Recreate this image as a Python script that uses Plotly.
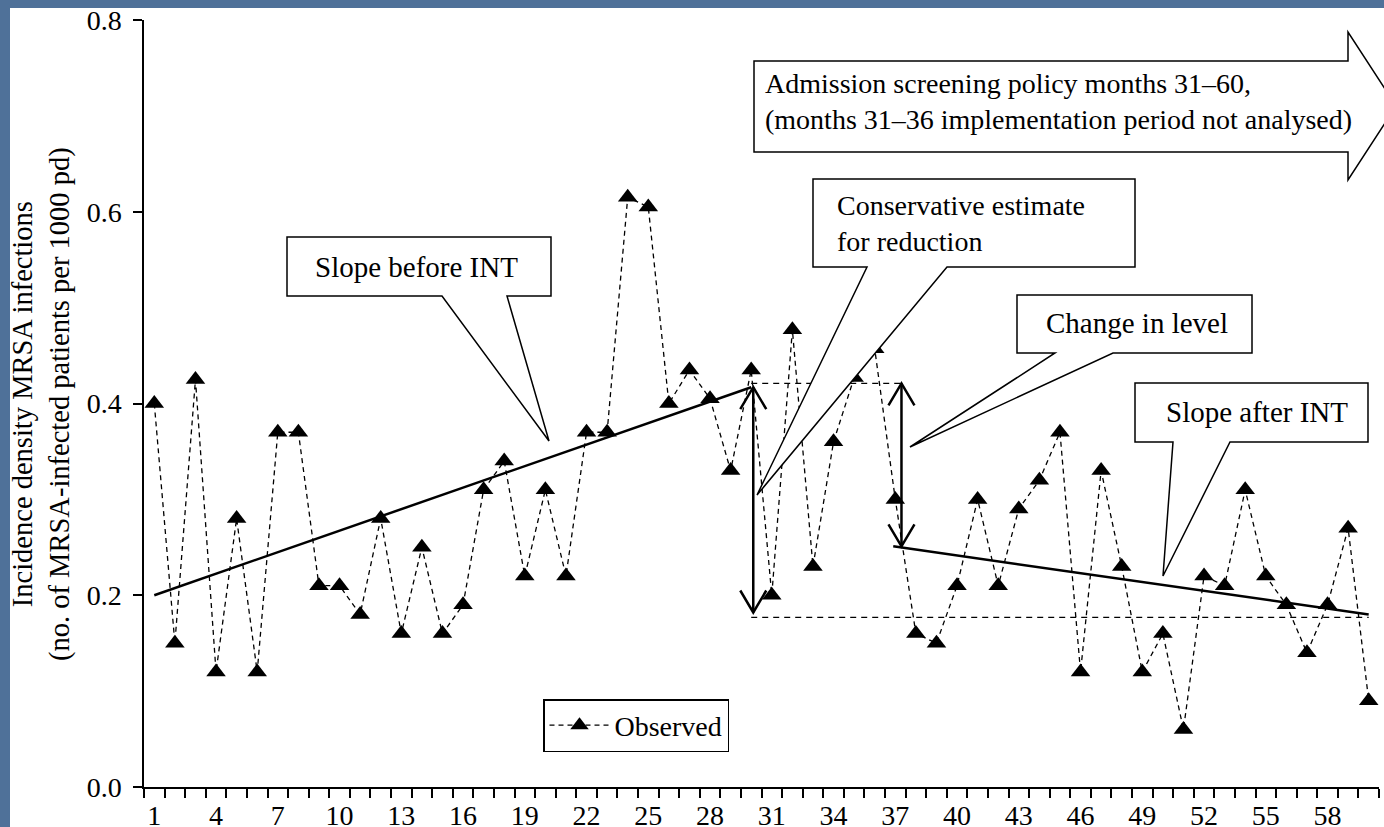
import plotly.graph_objects as go

# ---------------- data ----------------
months = list(range(1, 61))
observed = [0.40, 0.15, 0.425, 0.12, 0.28, 0.12, 0.37, 0.37, 0.21, 0.21,
            0.18, 0.28, 0.16, 0.25, 0.16, 0.19, 0.31, 0.34, 0.22, 0.31,
            0.22, 0.37, 0.37, 0.615, 0.605, 0.40, 0.435, 0.405, 0.33, 0.435,
            0.20, 0.477, 0.23, 0.36, 0.427, 0.457, 0.30, 0.16, 0.15, 0.21,
            0.30, 0.21, 0.29, 0.32, 0.37, 0.12, 0.33, 0.23, 0.12, 0.16,
            0.06, 0.22, 0.21, 0.31, 0.22, 0.19, 0.14, 0.19, 0.27, 0.09]

trend_pre_x = [1, 30]
trend_pre_y = [0.200, 0.417]
trend_post_x = [36.9, 60]
trend_post_y = [0.251, 0.180]

level_upper_x = [30, 37.3]
level_upper_y = [0.421, 0.421]
level_lower_x = [30, 60]
level_lower_y = [0.177, 0.177]

x_tick_labels = [1, 4, 7, 10, 13, 16, 19, 22, 25, 28, 31, 34, 37, 40, 43, 46, 49, 52, 55, 58]
y_ticks = [0.0, 0.2, 0.4, 0.6, 0.8]

# ---------------- layout geometry ----------------
W, H = 1384, 827
ML, MR, MT, MB = 144, 5, 20, 40
PW = W - ML - MR
PH = H - MT - MB
FONT = "Liberation Serif, Times New Roman, serif"
BLUE = "#4f7199"


def P(xp, yp):
    """pixel -> paper"""
    return (xp - ML) / PW, (H - MB - yp) / PH


def dxm(px):
    return px * 60.0 / PW


def dyv(px):
    return px * 0.8 / PH


def path_paper(points, close=True):
    s = ""
    for i, (xp, yp) in enumerate(points):
        x, y = P(xp, yp)
        s += ("M" if i == 0 else "L") + f"{x:.5f},{y:.5f} "
    if close:
        s += "Z"
    return s


fig = go.Figure()

fig.add_trace(go.Scatter(x=level_upper_x, y=level_upper_y, mode="lines",
                         line=dict(color="black", width=1.3, dash="6px,5px"),
                         showlegend=False, hoverinfo="skip"))
fig.add_trace(go.Scatter(x=level_lower_x, y=level_lower_y, mode="lines",
                         line=dict(color="black", width=1.3, dash="6px,5px"),
                         showlegend=False, hoverinfo="skip"))
fig.add_trace(go.Scatter(x=months, y=observed, mode="lines+markers", name="Observed",
                         line=dict(color="black", width=1.3, dash="5px,4px"),
                         marker=dict(symbol="triangle-up", size=17, color="black")))
fig.add_trace(go.Scatter(x=trend_pre_x, y=trend_pre_y, mode="lines",
                         line=dict(color="black", width=2.5), showlegend=False))
fig.add_trace(go.Scatter(x=trend_post_x, y=trend_post_y, mode="lines",
                         line=dict(color="black", width=2.5), showlegend=False))

shapes = []
# white panel on blue slide
x0, y0 = P(10, 8)
x1, y1 = P(1400, 840)
shapes.append(dict(type="rect", xref="paper", yref="paper", x0=x0, y0=y1, x1=x1, y1=y0,
                   fillcolor="white", line=dict(width=0), layer="below"))

# double headed arrows
def double_arrow(xa, ytop, ybot):
    hw, hh = dxm(13), dyv(22)
    out = [dict(type="line", xref="x", yref="y", x0=xa, x1=xa, y0=ybot, y1=ytop,
                line=dict(color="black", width=2.5))]
    out.append(dict(type="path", xref="x", yref="y",
                    path=f"M{xa-hw},{ytop-hh} L{xa},{ytop} L{xa+hw},{ytop-hh}",
                    line=dict(color="black", width=2.5)))
    out.append(dict(type="path", xref="x", yref="y",
                    path=f"M{xa-hw},{ybot+hh} L{xa},{ybot} L{xa+hw},{ybot+hh}",
                    line=dict(color="black", width=2.5)))
    return out

shapes += double_arrow(trend_pre_x[-1] + 0.1, trend_pre_y[-1], level_lower_y[0] + 0.005)
shapes += double_arrow(level_upper_x[-1], level_upper_y[0], trend_post_y[0])

callout_style = dict(type="path", xref="paper", yref="paper", fillcolor="white",
                     line=dict(color="black", width=1.5), layer="above")

# big arrow
shapes.append(dict(callout_style, path=path_paper(
    [(754, 61), (1348, 61), (1348, 32), (1396, 106), (1348, 180), (1348, 152), (754, 152)])))
# Slope before INT
shapes.append(dict(callout_style, path=path_paper(
    [(287, 237), (551, 237), (551, 296), (507, 296), (549, 441), (442, 296), (287, 296)])))
# Conservative estimate
shapes.append(dict(callout_style, path=path_paper(
    [(813, 179), (1135, 179), (1135, 267), (947, 267), (757, 495), (867, 267), (813, 267)])))
# Change in level
shapes.append(dict(callout_style, path=path_paper(
    [(1017, 295), (1252, 295), (1252, 353), (1113, 353), (910, 447), (1055, 353), (1017, 353)])))
# Slope after INT
shapes.append(dict(callout_style, path=path_paper(
    [(1135, 383), (1368, 383), (1368, 442), (1230, 442), (1163, 576), (1173, 442), (1135, 442)])))

annotations = []
def text(xp, yp, s, xanchor="center", size=29, align="center"):
    x, y = P(xp, yp)
    annotations.append(dict(xref="paper", yref="paper", x=x, y=y, text=s, showarrow=False,
                            xanchor=xanchor, yanchor="middle", align=align,
                            font=dict(family=FONT, size=size, color="black")))

text(763, 102, "Admission screening policy months 31–60,<br>(months 31–36 implementation period not analysed)",
     xanchor="left", align="left", size=28)
text(835, 224, "Conservative estimate<br>for reduction", xanchor="left", align="left", size=28)
text(416, 267, "Slope before INT")
text(1137, 323, "Change in level")
text(1257, 412, "Slope after INT")

# y axis title
xt, yt = P(42, 404)
annotations.append(dict(xref="paper", yref="paper", x=xt, y=yt, showarrow=False, textangle=-90,
                        text="Incidence density MRSA infections<br>(no. of MRSA-infected patients per 1000 pd)",
                        xanchor="center", yanchor="middle",
                        font=dict(family=FONT, size=28.5, color="black")))

lx, ly = P(543, 699)
fig.update_layout(
    width=W, height=H,
    margin=dict(l=ML, r=MR, t=MT, b=MB, pad=0, autoexpand=False),
    paper_bgcolor=BLUE, plot_bgcolor="white",
    font=dict(family=FONT, size=28, color="black"),
    shapes=shapes, annotations=annotations,
    showlegend=True,
    legend=dict(x=lx, y=ly, xanchor="left", yanchor="top", bgcolor="white",
                bordercolor="black", borderwidth=1.5, itemwidth=60,
                font=dict(family=FONT, size=28, color="black")),
    xaxis=dict(range=[0.5, 60.5], tickvals=x_tick_labels, ticktext=[str(v) for v in x_tick_labels],
               ticks="", showgrid=False, zeroline=False, showline=True, linecolor="black", linewidth=1.5,
               automargin=False,
               ticklabelstandoff=3, tickfont=dict(family=FONT, size=28),
               minor=dict(tickmode="linear", tick0=0.5, dtick=1, ticks="outside", ticklen=9,
                          tickcolor="black", tickwidth=1.5, showgrid=False)),
    yaxis=dict(range=[0, 0.8], tickvals=y_ticks, tickformat=".1f", ticks="outside", ticklen=9,
               tickcolor="black", tickwidth=1.5, showgrid=False, zeroline=False, showline=True,
               automargin=False,
               linecolor="black", linewidth=1.5, ticklabelstandoff=6, tickfont=dict(family=FONT, size=28)),
)

fig.write_html("out.html", config={"displayModeBar": False},
               post_script="document.body.style.margin='0';document.body.style.overflow='hidden';")
